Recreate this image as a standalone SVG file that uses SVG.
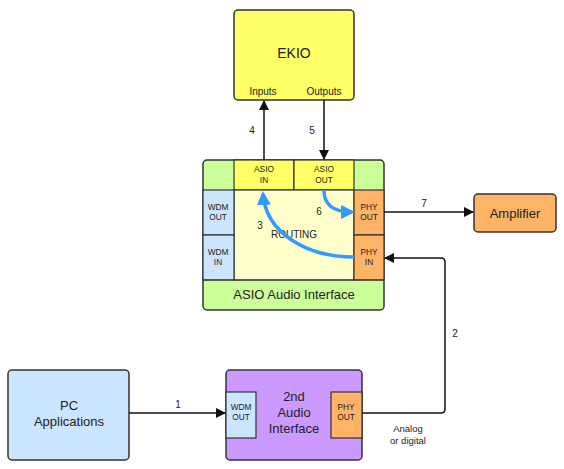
<svg xmlns="http://www.w3.org/2000/svg" width="564" height="469" viewBox="0 0 564 469">
<style>
text{font-family:"Liberation Sans",Arial,sans-serif;fill:#222;text-anchor:middle}
.box{stroke:#333;stroke-width:1.5}
.cell{stroke:#333;stroke-width:1.2}
.big{font-size:13px}
.sm{font-size:8.3px}
.lbl{font-size:10px}
.note{font-size:9.5px}
.ln{fill:none;stroke:#111;stroke-width:1.5}
.bl{fill:none;stroke:#3399ff;stroke-width:3.5}
</style>
<defs>
<marker id="ah" markerWidth="10" markerHeight="10" refX="9" refY="5" orient="auto" markerUnits="userSpaceOnUse"><path d="M0,0 L10,5 L0,10 z" fill="#111"/></marker>
<marker id="bh" markerWidth="14" markerHeight="14" refX="11" refY="7" orient="auto" markerUnits="userSpaceOnUse"><path d="M0,0 L14,7 L0,14 z" fill="#3399ff"/></marker>
</defs>
<g id="ekio">
<rect class="box" x="234" y="10" width="120" height="90" rx="4" fill="#ffff66"/>
<text x="294" y="58" font-size="14">EKIO</text>
<text x="263" y="95" class="lbl">Inputs</text>
<text x="324" y="95" class="lbl">Outputs</text>
</g>
<g id="asio">
<rect class="box" x="203" y="160" width="181" height="150" rx="4" fill="#ccff99"/>
<rect class="cell" x="234" y="160" width="60" height="30" fill="#ffff66"/>
<rect class="cell" x="294" y="160" width="60" height="30" fill="#ffff66"/>
<rect class="cell" x="234" y="190" width="120" height="90" fill="#ffffcc"/>
<rect class="cell" x="203" y="190" width="31" height="45" fill="#cce5ff"/>
<rect class="cell" x="203" y="235" width="31" height="45" fill="#cce5ff"/>
<rect class="cell" x="354" y="190" width="30" height="45" fill="#ffb366"/>
<rect class="cell" x="354" y="235" width="30" height="45" fill="#ffb366"/>
<line class="cell" x1="203" y1="280" x2="384" y2="280"/>
<text x="264" y="172" class="sm">ASIO</text><text x="264" y="183" class="sm">IN</text>
<text x="324" y="172" class="sm">ASIO</text><text x="324" y="183" class="sm">OUT</text>
<text x="218" y="210" class="sm">WDM</text><text x="218" y="220" class="sm">OUT</text>
<text x="218" y="255" class="sm">WDM</text><text x="218" y="265" class="sm">IN</text>
<text x="369" y="210" class="sm">PHY</text><text x="369" y="220" class="sm">OUT</text>
<text x="369" y="255" class="sm">PHY</text><text x="369" y="265" class="sm">IN</text>
<text x="294" y="238" class="lbl">ROUTING</text>
<text x="294" y="299" class="big">ASIO Audio Interface</text>
</g>
<g id="amplifier">
<rect class="box" x="474" y="194" width="82" height="38" rx="4" fill="#ffb366"/>
<text x="515" y="218" class="big">Amplifier</text>
</g>
<g id="pc">
<rect class="box" x="8" y="370" width="121" height="90" rx="4" fill="#cce5ff"/>
<text x="69" y="410" class="big">PC</text>
<text x="69" y="426" class="big">Applications</text>
</g>
<g id="second">
<rect class="box" x="226" y="370" width="136" height="90" rx="4" fill="#cc99ff"/>
<rect class="cell" x="226" y="392" width="30" height="46" fill="#cce5ff"/>
<rect class="cell" x="331" y="392" width="31" height="46" fill="#ffb366"/>
<text x="241" y="410" class="sm">WDM</text><text x="241" y="420" class="sm">OUT</text>
<text x="346" y="410" class="sm">PHY</text><text x="346" y="420" class="sm">OUT</text>
<text x="294" y="401" class="big">2nd</text>
<text x="294" y="417" class="big">Audio</text>
<text x="294" y="433" class="big">Interface</text>
</g>
<g id="connectors">
<line class="ln" x1="129" y1="413" x2="225" y2="413" marker-end="url(#ah)"/>
<text x="178" y="408" class="lbl">1</text>
<path class="ln" d="M362,413 H441 Q445,413 445,409 V262 Q445,258 441,258 H385" marker-end="url(#ah)"/>
<text x="455" y="337" class="lbl">2</text>
<text x="408" y="432" class="note">Analog</text>
<text x="408" y="444" class="note">or digital</text>
<line class="ln" x1="264" y1="160" x2="264" y2="101" marker-end="url(#ah)"/>
<text x="252" y="134" class="lbl">4</text>
<line class="ln" x1="324" y1="100" x2="324" y2="159" marker-end="url(#ah)"/>
<text x="312" y="134" class="lbl">5</text>
<line class="ln" x1="384" y1="212" x2="473" y2="212" marker-end="url(#ah)"/>
<text x="424" y="207" class="lbl">7</text>
<path class="bl" d="M354,257 C305,257 266,232 263,194" marker-end="url(#bh)"/>
<text x="260" y="229" class="lbl">3</text>
<path class="bl" d="M324,190 C324,205 333,212 352,212" marker-end="url(#bh)"/>
<text x="319" y="215" class="lbl">6</text>
</g>
</svg>
